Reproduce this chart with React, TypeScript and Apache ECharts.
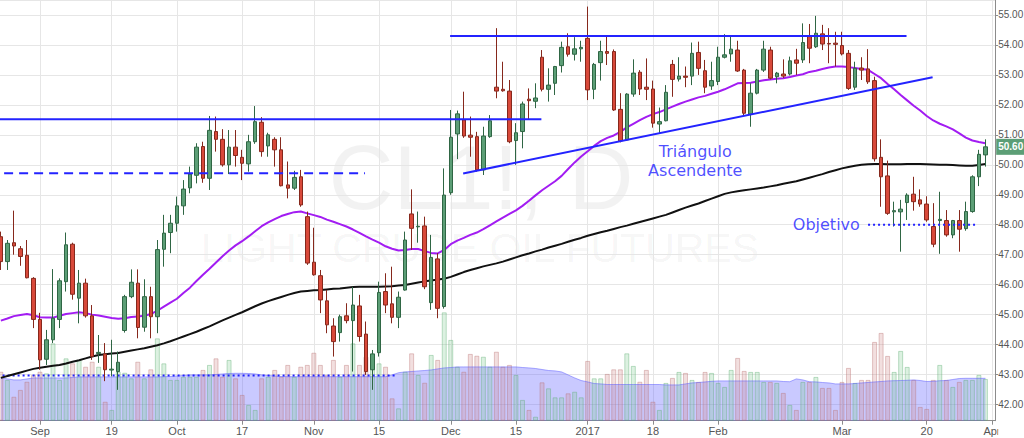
import React, { useEffect, useRef } from 'react';
import * as echarts from 'echarts';

// trading days (category keys), grouped by month
const monthDays: [string, number[]][] = [
  ['2016-08', [24, 25, 26, 29, 30, 31]],
  ['2016-09', [1, 2, 6, 7, 8, 9, 12, 13, 14, 15, 16, 19, 20, 21, 22, 23, 26, 27, 28, 29, 30]],
  ['2016-10', [3, 4, 5, 6, 7, 10, 11, 12, 13, 14, 17, 18, 19, 20, 21, 24, 25, 26, 27, 28, 31]],
  ['2016-11', [1, 2, 3, 4, 7, 8, 9, 10, 11, 14, 15, 16, 17, 18, 21, 22, 23, 25, 28, 29, 30]],
  ['2016-12', [1, 2, 5, 6, 7, 8, 9, 12, 13, 14, 15, 16, 19, 20, 21, 22, 23, 27, 28, 29, 30]],
  ['2017-01', [3, 4, 5, 6, 9, 10, 11, 12, 13, 17, 18, 19, 20, 23, 24, 25, 26, 27, 30, 31]],
  ['2017-02', [1, 2, 3, 6, 7, 8, 9, 10, 13, 14, 15, 16, 17, 21, 22, 23, 24, 27, 28]],
  ['2017-03', [1, 2, 3, 6, 7, 8, 9, 10, 13, 14, 15, 16, 17, 20, 21, 22, 23, 24, 27, 28, 29, 30, 31]],
  ['2017-04', [3]],
];

const tickDates = ['2016-09-01', '2016-09-19', '2016-10-03', '2016-10-17', '2016-11-01', '2016-11-15', '2016-12-01', '2016-12-15', '2017-01-03', '2017-01-18', '2017-02-01', '2017-03-01', '2017-03-20', '2017-04-03'];
const tickLabels = ['Sep', '19', 'Oct', '17', 'Nov', '15', 'Dec', '15', '2017', '18', 'Feb', 'Mar', '20', 'Apr'];

const open = [
  47.60, 46.77, 47.40, 47.20, 46.98, 46.21,
  44.84, 43.51, 44.16, 44.84, 46.10, 47.35, 45.55, 46.05, 44.96, 43.70,
  43.69, 43.15, 43.10, 44.47, 45.60, 46.05, 44.58, 45.60, 44.93, 47.18,
  47.74, 48.05, 48.63, 49.23, 49.65, 50.61, 49.55, 51.11, 50.85, 50.00,
  50.59, 50.25, 50.03, 50.77, 51.42, 50.63, 50.85, 50.50, 49.33, 49.22,
  49.60, 48.27, 46.75, 46.30, 45.46, 44.62, 44.40, 44.96, 44.80, 45.29,
  44.35, 43.16, 43.73, 45.77, 45.36, 44.91, 45.82, 48.36, 47.93, 47.96,
  45.40, 46.86, 45.27, 49.07, 51.03, 51.50, 50.99, 50.94, 49.83, 50.94,
  52.59, 52.52, 52.46, 50.81, 51.11, 52.19, 52.12, 53.59, 52.52, 52.72,
  53.31, 53.94, 53.69, 53.87, 54.22, 52.52, 53.41, 53.78, 53.78, 51.85,
  50.83, 52.36, 53.09, 52.59, 52.53, 51.36, 51.47, 53.35, 52.86, 52.96,
  52.96, 53.75, 53.14, 52.63, 52.78, 53.59, 53.70, 53.83, 53.16, 51.69,
  52.39, 53.16, 53.83, 52.94, 53.03, 53.03, 53.50, 53.50, 54.28, 53.94,
  54.37, 54.05, 54.06, 53.98, 53.72, 52.59, 53.23, 53.20, 52.81, 50.25,
  49.63, 48.43, 48.43, 48.74, 49.02, 48.83, 48.69, 47.94, 48.14, 48.14,
  47.66, 48.14, 47.87, 48.44, 49.60, 50.33,
];
const close = [
  46.77, 47.38, 47.29, 46.94, 46.23, 44.84,
  43.49, 44.16, 44.88, 46.13, 47.33, 45.68, 46.05, 44.96, 43.60, 43.74,
  43.16, 43.18, 43.41, 45.60, 46.08, 44.57, 45.60, 44.93, 47.17, 47.72,
  48.05, 48.63, 49.19, 49.69, 50.59, 49.55, 51.15, 50.85, 50.00, 50.59,
  50.31, 50.05, 50.77, 51.44, 50.44, 51.00, 50.50, 49.30, 49.22, 49.58,
  48.66, 46.72, 46.33, 45.49, 44.66, 44.10, 44.93, 44.80, 45.32, 44.27,
  43.10, 43.69, 45.74, 45.32, 44.91, 45.58, 47.49, 47.88, 47.95, 45.93,
  46.91, 45.21, 48.99, 50.92, 51.70, 50.96, 50.92, 49.83, 50.96, 51.47,
  52.46, 52.47, 50.77, 51.07, 52.03, 52.14, 52.23, 52.52, 52.66, 53.28,
  53.92, 53.69, 53.87, 53.92, 52.50, 53.35, 53.78, 53.72, 51.83, 50.80,
  52.36, 53.06, 52.53, 52.52, 51.39, 51.44, 52.42, 52.85, 52.96, 52.92,
  53.72, 53.22, 52.59, 52.81, 53.59, 53.67, 53.86, 53.13, 51.72, 52.39,
  53.16, 53.86, 52.89, 53.06, 52.96, 53.47, 53.39, 54.08, 53.89, 54.39,
  54.03, 54.03, 54.02, 53.70, 52.55, 53.22, 53.16, 52.77, 50.20, 49.60,
  48.38, 48.47, 48.52, 48.99, 48.77, 48.69, 48.16, 47.35, 48.18, 47.66,
  48.14, 47.85, 48.44, 49.60, 50.35, 50.60,
];
const low = [
  46.49, 46.49, 47.00, 46.63, 46.21, 44.55,
  43.16, 43.32, 44.05, 44.55, 45.77, 45.50, 44.71, 44.90, 43.49, 43.39,
  42.78, 42.94, 42.49, 44.40, 45.55, 44.21, 44.43, 44.21, 44.38, 46.60,
  47.05, 47.77, 48.33, 49.05, 49.38, 49.40, 49.16, 50.44, 49.94, 49.69,
  49.94, 49.49, 49.77, 50.70, 50.27, 50.27, 49.94, 49.28, 48.88, 49.16,
  48.60, 46.66, 46.30, 45.05, 44.38, 43.60, 44.10, 44.71, 43.10, 44.10,
  42.99, 42.49, 43.60, 45.05, 44.71, 44.55, 45.80, 47.16, 47.40, 45.85,
  45.16, 44.88, 45.20, 49.00, 50.19, 50.90, 50.27, 49.77, 49.66, 50.90,
  52.22, 52.44, 50.72, 50.00, 50.55, 51.50, 51.89, 52.45, 52.11, 52.33,
  53.08, 53.61, 53.48, 53.44, 52.16, 52.19, 52.81, 53.33, 51.80, 50.75,
  50.80, 52.27, 52.33, 52.16, 51.24, 51.05, 51.45, 52.27, 52.78, 52.59,
  52.66, 53.00, 52.39, 52.50, 52.66, 53.55, 53.44, 53.10, 51.66, 51.27,
  52.35, 53.10, 52.85, 52.72, 52.90, 52.98, 53.00, 53.40, 53.39, 53.90,
  53.83, 53.39, 53.28, 53.65, 52.50, 52.50, 52.83, 52.70, 50.11, 48.60,
  48.33, 47.94, 47.10, 48.16, 48.47, 48.60, 48.10, 47.25, 47.03, 47.60,
  47.55, 47.10, 47.80, 48.40, 49.29, 49.94,
];
const high = [
  47.77, 47.49, 48.47, 47.29, 47.49, 46.25,
  45.06, 44.49, 46.52, 46.21, 47.74, 47.40, 46.49, 46.20, 45.32, 44.32,
  44.05, 44.16, 43.77, 45.66, 46.51, 46.51, 46.18, 45.93, 47.49, 48.33,
  48.33, 48.94, 49.49, 49.94, 50.72, 50.77, 51.63, 51.61, 51.19, 51.16,
  51.16, 50.50, 51.00, 51.96, 51.59, 51.07, 50.92, 50.92, 50.11, 49.80,
  49.83, 48.44, 47.90, 46.49, 45.82, 44.88, 45.00, 45.38, 45.93, 45.66,
  44.77, 43.82, 46.10, 46.38, 46.60, 45.77, 47.77, 49.18, 48.44, 48.27,
  47.66, 47.05, 49.88, 51.83, 51.81, 52.44, 51.61, 51.10, 51.27, 51.66,
  54.56, 53.44, 52.83, 51.39, 52.11, 52.55, 52.72, 53.83, 53.22, 53.30,
  54.11, 54.39, 54.26, 54.14, 55.28, 53.40, 54.14, 54.33, 53.85, 52.39,
  52.39, 53.52, 53.16, 53.55, 52.81, 51.91, 52.66, 53.50, 53.59, 53.28,
  54.08, 54.11, 53.50, 53.44, 53.94, 54.36, 54.28, 54.14, 53.20, 52.72,
  53.20, 54.14, 53.94, 53.10, 53.52, 53.61, 53.87, 54.72, 54.70, 54.97,
  54.67, 54.56, 54.44, 54.44, 53.83, 53.44, 53.59, 53.86, 52.94, 50.85,
  50.14, 48.77, 48.83, 49.05, 49.60, 49.18, 48.95, 48.72, 49.10, 48.49,
  48.16, 48.49, 48.77, 49.65, 50.50, 50.85,
];
// volume, thousands of contracts
const volume = [
  245, 204, 120, 154, 195, 229,
  245, 237, 387, 204, 312, 287, 304, 270, 295, 270,
  95, 54, 245, 240, 212, 295, 212, 257, 412, 287,
  204, 204, 220, 220, 220, 254, 279, 312, 220, 304,
  212, 129, 79, 54, 212, 220, 254, 220, 279, 220,
  270, 279, 340, 279, 229, 304, 220, 279, 387, 279,
  320, 287, 287, 270, 112, 62, 245, 337, 229, 190,
  329, 304, 542, 404, 270, 245, 334, 325, 320, 270,
  345, 270, 279, 229, 104, 54, 20, 192, 162, 117,
  117, 137, 145, 117, 299, 212, 212, 234, 257, 257,
  337, 274, 195, 254, 95, 54, 189, 214, 244, 239,
  204, 194, 244, 239, 189, 169, 254, 314, 249, 244,
  244, 194, 194, 189, 139, 79, 54, 194, 194, 219,
  164, 164, 54, 194, 264, 189, 204, 204, 394, 439,
  324, 244, 349, 269, 204, 69, 59, 204, 279, 204,
  169, 194, 204, 204, 229, 209,
];
// volume moving average, thousands
const volumeMA = [
  214, 209, 204, 204, 209, 214,
  214, 214, 214, 214, 214, 216, 219, 219, 219, 219,
  219, 219, 219, 219, 219, 219, 219, 219, 219, 220,
  221, 224, 226, 229, 229, 229, 229, 231, 234, 236,
  237, 237, 236, 234, 229, 226, 224, 221, 220, 220,
  220, 220, 220, 220, 220, 220, 220, 220, 220, 220,
  220, 220, 220, 220, 229, 240, 244, 246, 249, 251,
  254, 259, 264, 266, 269, 269, 269, 269, 269, 269,
  269, 269, 269, 269, 266, 264, 261, 256, 251, 249,
  244, 229, 214, 201, 194, 186, 184, 181, 181, 181,
  181, 181, 181, 181, 181, 181, 179, 179, 179, 184,
  189, 191, 194, 197, 199, 199, 199, 199, 199, 199,
  199, 199, 199, 199, 196, 195, 209, 204, 195, 194,
  191, 189, 184, 184, 184, 186, 189, 191, 194, 196,
  199, 200, 201, 202, 204, 201, 196, 197, 200, 201,
  206, 211, 212, 212, 212, 212,
];
// short moving average (purple)
const maShort = [
  44.80, 44.87, 44.95, 44.99, 45.02, 44.98,
  44.91, 44.90, 44.90, 44.96, 45.02, 45.05, 45.08, 45.05, 45.00, 44.97,
  44.93, 44.89, 44.86, 44.88, 44.92, 44.94, 44.96, 45.02, 45.13, 45.27,
  45.40, 45.53, 45.72, 45.90, 46.12, 46.33, 46.53, 46.74, 46.95, 47.14,
  47.31, 47.45, 47.61, 47.78, 47.95, 48.08, 48.19, 48.29, 48.36, 48.42,
  48.44, 48.38, 48.32, 48.26, 48.17, 48.10, 48.02, 47.94, 47.84, 47.73,
  47.61, 47.50, 47.40, 47.28, 47.20, 47.14, 47.16, 47.19, 47.19, 47.12,
  47.06, 47.04, 47.16, 47.35, 47.47, 47.56, 47.66, 47.74, 47.85, 47.98,
  48.11, 48.24, 48.36, 48.48, 48.63, 48.80, 48.98, 49.15, 49.30, 49.45,
  49.63, 49.86, 50.08, 50.28, 50.45, 50.63, 50.79, 50.90, 50.98, 51.10,
  51.25, 51.37, 51.49, 51.60, 51.69, 51.76, 51.85, 51.94, 52.03, 52.11,
  52.18, 52.25, 52.30, 52.37, 52.44, 52.52, 52.62, 52.72, 52.73, 52.74,
  52.78, 52.82, 52.85, 52.87, 52.89, 52.93, 52.98, 53.02, 53.10, 53.14,
  53.20, 53.25, 53.28, 53.28, 53.26, 53.23, 53.20, 53.17, 53.03, 52.89,
  52.70, 52.52, 52.33, 52.15, 51.97, 51.81, 51.63, 51.48, 51.37, 51.28,
  51.18, 51.05, 50.91, 50.81, 50.76, 50.72,
];
// long moving average (black)
const maLong = [
  42.89, 42.95, 43.01, 43.07, 43.13, 43.19,
  43.23, 43.26, 43.29, 43.32, 43.37, 43.43, 43.48, 43.54, 43.60, 43.65,
  43.68, 43.70, 43.72, 43.76, 43.80, 43.84, 43.88, 43.93, 43.98, 44.04,
  44.11, 44.19, 44.27, 44.35, 44.43, 44.52, 44.61, 44.71, 44.81, 44.90,
  44.99, 45.08, 45.18, 45.28, 45.37, 45.45, 45.52, 45.59, 45.66, 45.72,
  45.77, 45.79, 45.81, 45.82, 45.84, 45.86, 45.87, 45.90, 45.92, 45.93,
  45.93, 45.93, 45.93, 45.94, 45.95, 45.97, 45.99, 46.03, 46.07, 46.11,
  46.14, 46.17, 46.20, 46.26, 46.34, 46.42, 46.49, 46.55, 46.61, 46.66,
  46.71, 46.77, 46.84, 46.91, 46.98, 47.04, 47.11, 47.17, 47.24, 47.30,
  47.36, 47.43, 47.50, 47.56, 47.63, 47.69, 47.75, 47.80, 47.86, 47.92,
  47.97, 48.03, 48.09, 48.15, 48.21, 48.27, 48.33, 48.41, 48.49, 48.57,
  48.64, 48.71, 48.79, 48.87, 48.95, 49.03, 49.08, 49.12, 49.15, 49.18,
  49.21, 49.24, 49.28, 49.32, 49.37, 49.41, 49.45, 49.51, 49.57, 49.63,
  49.69, 49.76, 49.82, 49.88, 49.93, 49.97, 50.00, 50.02, 50.03, 50.03,
  50.02, 50.02, 50.02, 50.03, 50.03, 50.03, 50.02, 50.01, 50.00, 50.00,
  49.99, 49.98, 49.97, 49.97, 49.99, 50.03,
];

// drawn annotations: [barPosition, price] pairs (bar position: 0 = 1 Sep 2016)
const resistanceOld = [[-6.5, 51.52], [76.9, 51.52]];
const dashedLevel = [[-5.5, 49.72], [49.85, 49.72]];
const resistanceTop = [[62.9, 54.3], [132.9, 54.3]];
const trendLine = [[64.9, 49.71], [136.9, 52.92]];
const targetLine = [[127.0, 48.0], [143.5, 48.0]];
const volumeLevel = [[-6.5, 42.97], [54.75, 42.97]];
const triangleLabel = { pos: [100.5, 50.14], text: 'Triángulo\nAscendente' };
const targetLabel = { pos: [120.6, 48.0], text: 'Objetivo' };

const BLUE = '#2323ff';
const FONT = '"Liberation Sans", Arial, sans-serif';

export default function App() {
  const ref = useRef<HTMLDivElement>(null);
  useEffect(() => {
    if (!ref.current) return;
    const chart = echarts.init(ref.current, null, { renderer: 'svg' });
    const dates: string[] = [];
    monthDays.forEach(([m, days]) => days.forEach((d) => dates.push(`${m}-${String(d).padStart(2, '0')}`)));
    const labelMap: Record<string, string> = {};
    tickDates.forEach((d, i) => (labelMap[d] = tickLabels[i]));
    const isTick = (_i: number, v: string) => labelMap[v] !== undefined;
    const ohlc = open.map((o, i) => [o, close[i], low[i], high[i]]);
    const volData = volume.map((v, i) => ({
      value: v,
      itemStyle: close[i] >= open[i]
        ? { color: 'rgba(120,200,140,0.26)', borderColor: 'rgba(90,170,110,0.38)', borderWidth: 1 }
        : { color: 'rgba(205,130,130,0.26)', borderColor: 'rgba(185,110,110,0.38)', borderWidth: 1 },
    }));
    const lastPrice = close[close.length - 1];
    const annLine = (data: number[][], type: any, z = 6) => ({
      type: 'line', xAxisIndex: 1, yAxisIndex: 0, data, showSymbol: false, symbol: 'none', z,
      lineStyle: { color: BLUE, width: 2, type }, silent: true,
    });
    const textSeries = (item: { pos: number[]; text: string }) => ({
      type: 'scatter', xAxisIndex: 1, yAxisIndex: 0, data: [item.pos], symbolSize: 0.1, z: 7, silent: true,
      itemStyle: { color: 'rgba(0,0,0,0)' },
      label: {
        show: true, position: 'inside', formatter: item.text, color: '#1f1fff', fontSize: 16,
        fontFamily: '"DejaVu Sans", Verdana, sans-serif', lineHeight: 19, align: 'center',
      },
    });
    const watermark = [
      {
        type: 'text', x: 481, y: 178, z: -10, silent: true,
        style: { text: 'CL1!, D', fontSize: 90, fontFamily: FONT, fill: 'rgba(0,0,0,0.05)', align: 'center', verticalAlign: 'middle' },
      },
      {
        type: 'text', x: 480, y: 248, z: -10, silent: true,
        style: { text: 'LIGHT CRUDE OIL FUTURES', fontSize: 41, fontFamily: FONT, fill: 'rgba(0,0,0,0.05)', align: 'center', verticalAlign: 'middle' },
      },
    ];
    chart.setOption({
      animation: false,
      textStyle: { fontFamily: FONT },
      graphic: watermark,
      grid: { left: -2.4, right: 28.8, top: 0, bottom: 17.3, containLabel: false, outerBoundsMode: 'none' },
      xAxis: [
        {
          type: 'category', data: dates, boundaryGap: true,
          axisLine: { show: true, onZero: false, lineStyle: { color: '#8c8c8c' } },
          axisTick: { show: true, interval: isTick, alignWithLabel: true, length: 4, lineStyle: { color: '#8c8c8c' } },
          axisLabel: { interval: isTick, formatter: (v: string) => labelMap[v] || '', color: '#555', fontSize: 11, margin: 5 },
          splitLine: { show: true, interval: isTick, alignWithLabel: true, lineStyle: { color: '#e6e6e6' } },
        },
        { type: 'value', min: -6.5, max: 146.5, show: false, axisLine: { show: false, onZero: false }, splitLine: { show: false } },
      ],
      yAxis: [
        {
          type: 'value', position: 'right', min: 41.46, max: 55.5, splitNumber: 14,
          axisLine: { show: true, onZero: false, lineStyle: { color: '#8c8c8c' } },
          axisTick: { show: true, length: 3, lineStyle: { color: '#8c8c8c' } },
          axisLabel: {
            color: '#555', fontSize: 10, margin: 3, showMinLabel: false, showMaxLabel: false,
            formatter: (v: number) => (Math.abs(v - Math.round(v)) > 1e-6 ? '' : v.toFixed(2)),
          },
          splitLine: { show: true, lineStyle: { color: '#e6e6e6' } },
        },
        { type: 'value', min: 0, max: 2104, show: false, axisLine: { show: false, onZero: false }, splitLine: { show: false } },
      ],
      series: [
        { type: 'bar', xAxisIndex: 0, yAxisIndex: 1, data: volData, barWidth: 5, z: 1, silent: true },
        {
          type: 'line', xAxisIndex: 0, yAxisIndex: 1, data: volumeMA, showSymbol: false, symbol: 'none', z: 1,
          lineStyle: { width: 1, color: 'rgba(90,90,255,0.5)' }, areaStyle: { color: 'rgba(90,90,255,0.47)' }, silent: true,
        },
        annLine(volumeLevel, [2, 3], 2),
        {
          type: 'line', xAxisIndex: 0, yAxisIndex: 0, data: maLong, showSymbol: false, symbol: 'none', z: 3,
          lineStyle: { width: 2, color: '#111' }, silent: true,
        },
        {
          type: 'line', xAxisIndex: 0, yAxisIndex: 0, data: maShort, showSymbol: false, symbol: 'none', z: 3,
          lineStyle: { width: 2, color: '#a21cf2' }, silent: true,
        },
        {
          type: 'candlestick', xAxisIndex: 0, yAxisIndex: 0, data: ohlc, barWidth: 4, z: 4,
          itemStyle: { color: '#5c9e76', color0: '#d8493a', borderColor: '#2f6644', borderColor0: '#86281c', borderWidth: 1 },
        },
        annLine(resistanceOld, 'solid'),
        annLine(dashedLevel, [9, 6]),
        annLine(resistanceTop, 'solid'),
        annLine(trendLine, 'solid'),
        annLine(targetLine, [2, 3]),
        textSeries(triangleLabel),
        textSeries(targetLabel),
      ],
    });
    // last-price tag on the price scale, placed through the axis scale
    const py = chart.convertToPixel({ yAxisIndex: 0 }, lastPrice) as number;
    const gridRight = 1024 - 28.8;
    chart.setOption({
      graphic: [
        ...watermark,
        {
          type: 'rect', z: 50, silent: true,
          shape: { x: gridRight + 1, y: py - 8, width: 1024 - gridRight, height: 16 },
          style: { fill: '#5c9e76' },
        },
        {
          type: 'text', z: 51, silent: true, x: gridRight + 3, y: py,
          style: { text: lastPrice.toFixed(2), fontSize: 10, fontFamily: FONT, fill: '#fff', align: 'left', verticalAlign: 'middle', fontWeight: 'bold' },
        },
        {
          type: 'rect', z: 50, silent: true,
          shape: { x: gridRight + 3, y: 422, width: 30, height: 16 },
          style: { fill: '#fff' },
        },
      ],
    });
    return () => chart.dispose();
  }, []);
  return <div ref={ref} style={{ position: 'fixed', left: 0, top: 0, width: 1024, height: 438, background: '#fff' }} />;
}
